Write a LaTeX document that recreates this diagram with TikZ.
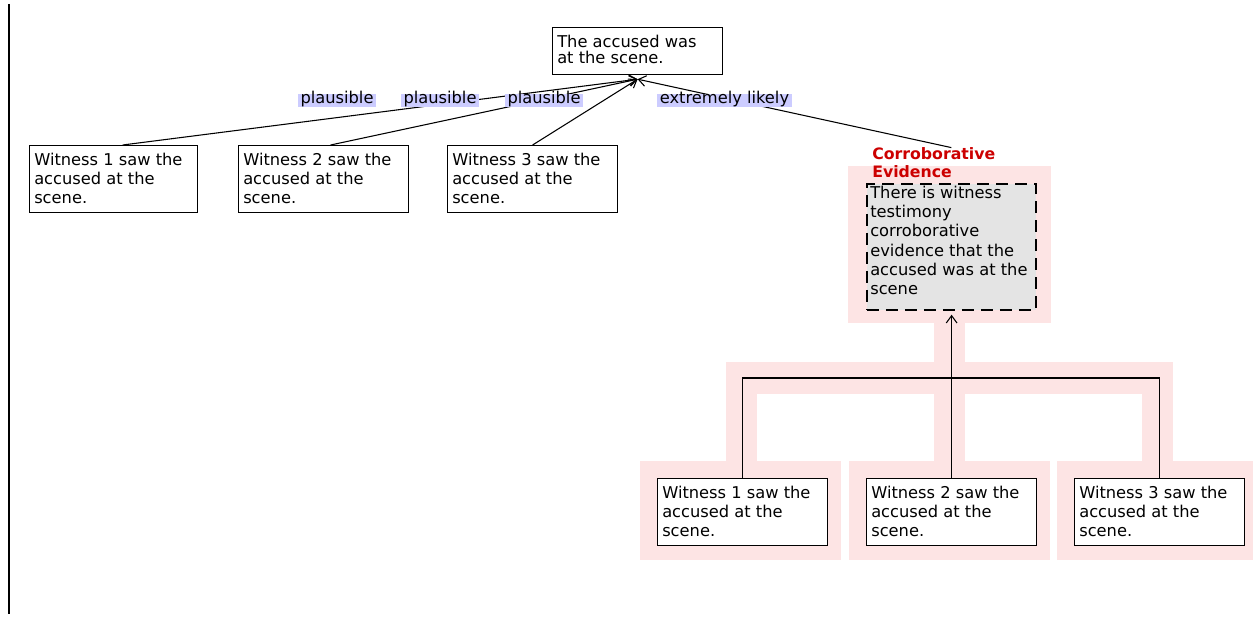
\documentclass[tikz,border=0pt]{standalone}
\usepackage{fontspec}
\setmainfont{DejaVu Sans}
\usetikzlibrary{arrows.meta,calc}
\definecolor{pinkbg}{RGB}{253,228,228}
\definecolor{lblbg}{RGB}{204,204,255}
\definecolor{cered}{RGB}{204,0,0}
\definecolor{cegray}{RGB}{228,228,228}
\newcommand{\dfont}{\fontsize{12.2}{14.5}\selectfont}
\newcommand{\tfont}{\fontsize{12.2}{12.4}\selectfont}
\newcommand{\rfont}{\fontsize{11.8}{13.5}\selectfont\bfseries}
\begin{document}
\begin{tikzpicture}[x=0.75pt,y=-0.75pt,
  box/.style={draw, line width=0.9pt, fill=white, anchor=north west, minimum height=50.25pt, minimum width=127.5pt, inner sep=0pt},
  txt/.style={anchor=north west, inner sep=0pt, align=left, font=\dfont},
  lbl/.style={fill=lblbg, font=\dfont, inner xsep=2.25pt, inner ysep=0pt, text height=0.76em, text depth=0.24em},
  conn/.style={line width=0.8pt},
  tip/.style={-{Straight Barb[length=5.5pt,width=8pt,line width=0.8pt]}}
]
\useasboundingbox (0,0) rectangle (1253,617);

% left border line
\draw[line width=1.1pt] (9,4) -- (9,614);

% pink highlight of the corroborative evidence group
\fill[pinkbg] (848,166) rectangle (1051,323);
\fill[pinkbg] (934,323) rectangle (965,362);
\fill[pinkbg] (726,362) rectangle (1173,394);
\fill[pinkbg] (726,394) rectangle (757,461);
\fill[pinkbg] (934,394) rectangle (965,461);
\fill[pinkbg] (1142,394) rectangle (1173,461);
\fill[pinkbg] (640,461) rectangle (841,560);
\fill[pinkbg] (849,461) rectangle (1050,560);
\fill[pinkbg] (1057,461) rectangle (1253,560);

% top claim
\node[box, minimum height=35.25pt] (top) at (552,27) {};
\node[txt, font=\tfont] (topt) at (557,34.6) {The accused was\\at the scene.};

% left witnesses
\node[box, minimum width=126pt] (w1) at (29,145) {};
\node[txt] (w1t) at (34,152.6) {Witness 1 saw the\\accused at the\\scene.};
\node[box] (w2) at (238,145) {};
\node[txt] (w2t) at (243,152.6) {Witness 2 saw the\\accused at the\\scene.};
\node[box] (w3) at (447,145) {};
\node[txt] (w3t) at (452,152.6) {Witness 3 saw the\\accused at the\\scene.};

% corroborative evidence
\node[anchor=north west, inner sep=0pt, align=left, font=\rfont, text=cered] (celbl) at (872,147.6) {Corroborative\\Evidence};
\node[draw, line width=1.3pt, dash pattern=on 9pt off 5.25pt, fill=cegray, anchor=north west, minimum width=126.75pt, minimum height=94.5pt, inner sep=0pt] (ce) at (866,183) {};
\node[txt] (cet) at (870,185.6) {There is witness\\testimony\\corroborative\\evidence that the\\accused was at the\\scene};

% bottom witnesses
\node[box] (b1) at (657,478) {};
\node[txt] (b1t) at (662,485.6) {Witness 1 saw the\\accused at the\\scene.};
\node[box] (b2) at (866,478) {};
\node[txt] (b2t) at (871,485.6) {Witness 2 saw the\\accused at the\\scene.};
\node[box] (b3) at (1074,478) {};
\node[txt] (b3t) at (1079,485.6) {Witness 3 saw the\\accused at the\\scene.};

% connectors to the top claim
\coordinate (tgt) at ([yshift=-3pt]top.south);
\draw[conn,tip] ([xshift=6.75pt]w1.north) -- (tgt);
\draw[conn,tip] ([xshift=5.25pt]w2.north) -- (tgt);
\draw[conn,tip] (w3.north) -- (tgt);
\draw[conn,tip] (ce.north |- celbl.north) -- (tgt);

% connector labels
\node[lbl] (l1) at (337,100.5) {plausible};
\node[lbl] (l2) at (440,100.5) {plausible};
\node[lbl] (l3) at (544,100.5) {plausible};
\node[lbl] (l4) at (724.5,100.5) {extremely likely};

% bottom group connectors
\coordinate (bar) at (950,378);
\draw[conn] (b1.north) -- (b1.north |- bar) -- (b3.north |- bar) -- (b3.north);
\draw[conn,tip] (b2.north) -- ([yshift=-3pt]b2.north |- ce.south);
\end{tikzpicture}
\end{document}
